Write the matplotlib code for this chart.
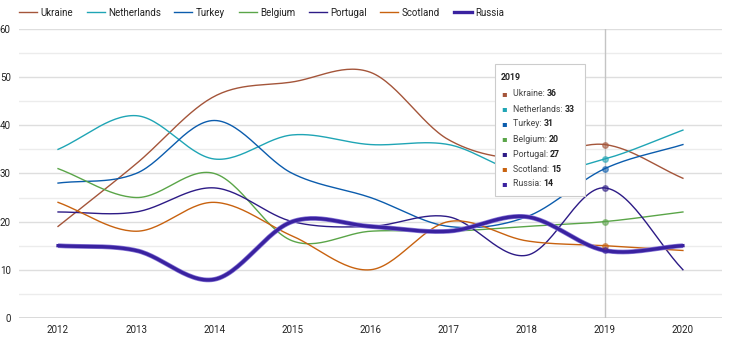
import matplotlib
matplotlib.use("Agg")
import matplotlib.pyplot as plt
import numpy as np

plt.rcParams['font.family'] = ['Roboto', 'DejaVu Sans']

years = [2012, 2013, 2014, 2015, 2016, 2017, 2018, 2019, 2020]
names = ["Ukraine", "Netherlands", "Turkey", "Belgium", "Portugal", "Scotland", "Russia"]
ukraine = [19, 32, 46, 49, 51, 37, 33, 36, 29]
netherlands = [35, 42, 33, 38, 36, 36, 30, 33, 39]
turkey = [28, 30, 41, 30, 25, 19, 21, 31, 36]
belgium = [31, 25, 30, 16, 18, 18, 19, 20, 22]
portugal = [22, 22, 27, 20, 19, 21, 13, 27, 10]
scotland = [24, 18, 24, 17, 10, 20, 16, 15, 14]
russia = [15, 14, 8, 20, 19, 18, 21, 14, 15]
colors = ["#a4553a", "#1fa5b5", "#0b5cad", "#5aa548", "#2d1b86", "#c8620f", "#3a22a0"]
widths = [1.0, 1.0, 1.0, 1.0, 1.0, 1.0, 2.4]
series = [ukraine, netherlands, turkey, belgium, portugal, scotland, russia]
focus_year = 2019


def smooth(x, y, n=30):
    # catmull-rom style smoothing between points
    x = np.asarray(x, float)
    y = np.asarray(y, float)
    m = np.zeros_like(y)
    m[1:-1] = (y[2:] - y[:-2]) / (x[2:] - x[:-2])
    m[0] = (y[1] - y[0]) / (x[1] - x[0])
    m[-1] = (y[-1] - y[-2]) / (x[-1] - x[-2])
    xs, ys = [], []
    for i in range(len(x) - 1):
        h = x[i + 1] - x[i]
        t = np.linspace(0, 1, n, endpoint=False)
        h00 = 2 * t**3 - 3 * t**2 + 1
        h10 = t**3 - 2 * t**2 + t
        h01 = -2 * t**3 + 3 * t**2
        h11 = t**3 - t**2
        xs.append(x[i] + t * h)
        ys.append(h00 * y[i] + h10 * h * m[i] + h01 * y[i + 1] + h11 * h * m[i + 1])
    xs.append([x[-1]])
    ys.append([y[-1]])
    return np.concatenate(xs), np.concatenate(ys)


fig = plt.figure(figsize=(7.3, 3.58), dpi=100)
ax = fig.add_axes([0.026, 0.112, 0.963, 0.807])

for v in range(5, 60, 10):
    ax.axhline(v, color="#ececec", lw=1, zorder=0)
for v in range(10, 61, 10):
    ax.axhline(v, color="#dedede", lw=1, zorder=0)
ax.axhline(0, color="#444444", lw=1, zorder=1)
ax.axvline(focus_year, color="#c4c4c4", lw=1, zorder=1)

handles = []
for name, vals, c, w in zip(names, series, colors, widths):
    sx, sy = smooth(years, vals)
    if w > 2:
        ax.plot(sx, sy, color="#8675d6", lw=w + 1.0, zorder=3, solid_capstyle="butt")
    h, = ax.plot(sx, sy, color=c, lw=w, zorder=3, label=name)
    handles.append(h)
    i = years.index(focus_year)
    ax.plot(focus_year, vals[i], "o", ms=4, mfc=c, mec=c, alpha=0.55, zorder=4)

ax.set_xlim(2011.5, 2020.5)
ax.set_ylim(0, 60)
ax.set_xticks(years)
ax.set_yticks(range(0, 61, 10))
ax.tick_params(length=0, labelsize=7, colors="#222222")
ax.tick_params(axis="y", pad=6)
ax.tick_params(axis="x", pad=5)
for s in ax.spines.values():
    s.set_visible(False)

fig.legend(handles=handles, labels=names, loc="upper left", bbox_to_anchor=(0.014, 1.003),
           ncol=7, frameon=False, fontsize=7, handlelength=1.85, handletextpad=0.35,
           columnspacing=1.4, labelcolor="#222222")

# tooltip box
tip = plt.Rectangle((495 / 730, 1 - 196 / 358), 90 / 730, 132 / 358, transform=fig.transFigure,
                    facecolor="white", edgecolor="#cccccc", lw=0.8, zorder=10)
fig.patches.append(tip)
fig.text(501 / 730, 1 - 77 / 358, str(focus_year), fontsize=6.3, fontweight="bold",
         color="#222222", va="center", zorder=11)
renderer = fig.canvas.get_renderer()
for k, (name, vals, c) in enumerate(zip(names, series, colors)):
    yy = 1 - (94 + 15 * k) / 358
    fig.text(504 / 730, yy, "\u25aa", fontsize=6, color=c, va="center", ha="center", zorder=11)
    t = fig.text(513 / 730, yy, name + ": ", fontsize=6.3, color="#444444", va="center", zorder=11)
    bb = t.get_window_extent(renderer)
    fig.text(bb.x1 / fig.bbox.width, yy, str(vals[years.index(focus_year)]), fontsize=6.3,
             fontweight="bold", color="#222222", va="center", zorder=11)

fig.savefig("out.png", dpi=100)
